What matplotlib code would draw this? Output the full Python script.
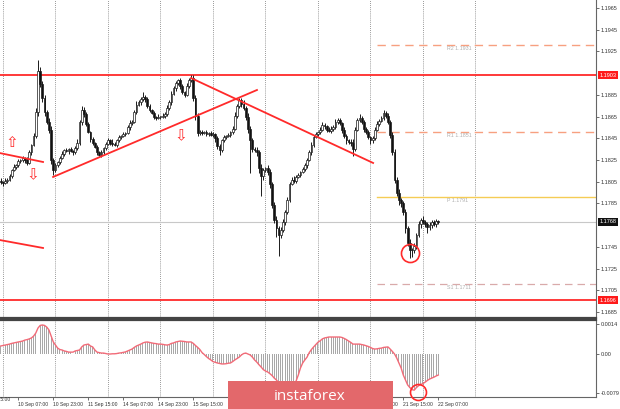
import matplotlib.pyplot as plt
import numpy as np
from matplotlib.patches import Rectangle
from matplotlib.transforms import blended_transform_factory

plt.rcParams['font.family'] = ['Liberation Sans', 'DejaVu Sans']

# EURUSD H1, bar 0 = 10 Sep 07:00
first_bar = -8
first_open = 1.1806
closes = [
    1.1805, 1.1804, 1.1806, 1.1807, 1.1810, 1.1816, 1.1819, 1.1820,
    1.1824, 1.1825, 1.1827, 1.1825, 1.1822, 1.1832, 1.1839, 1.1847, 1.1869, 1.1907, 1.1895, 1.1882,
    1.1869, 1.1860, 1.1853, 1.1825, 1.1816, 1.1820, 1.1823, 1.1827, 1.1831, 1.1834, 1.1833, 1.1835,
    1.1833, 1.1832, 1.1836, 1.1841, 1.1860, 1.1871, 1.1867, 1.1858, 1.1851, 1.1844, 1.1841, 1.1837,
    1.1832, 1.1830, 1.1832, 1.1836, 1.1840, 1.1843, 1.1841, 1.1840, 1.1839, 1.1843, 1.1846, 1.1847,
    1.1849, 1.1850, 1.1855, 1.1859, 1.1860, 1.1869, 1.1876, 1.1878, 1.1881, 1.1883, 1.1881, 1.1875,
    1.1871, 1.1868, 1.1865, 1.1864, 1.1865, 1.1865, 1.1866, 1.1867, 1.1873, 1.1878, 1.1886, 1.1891,
    1.1896, 1.1899, 1.1893, 1.1888, 1.1885, 1.1893, 1.1899, 1.1901, 1.1882, 1.1866, 1.1850, 1.1851,
    1.1850, 1.1851, 1.1849, 1.1850, 1.1848, 1.1849, 1.1845, 1.1838, 1.1834, 1.1843, 1.1846, 1.1847,
    1.1848, 1.1851, 1.1854, 1.1866, 1.1875, 1.1880, 1.1877, 1.1873, 1.1865, 1.1854, 1.1843, 1.1835,
    1.1834, 1.1832, 1.1818, 1.1810, 1.1816, 1.1818, 1.1814, 1.1803, 1.1784, 1.1770, 1.1762, 1.1756,
    1.1761, 1.1768, 1.1777, 1.1788, 1.1803, 1.1807, 1.1806, 1.1809, 1.1811, 1.1814, 1.1817, 1.1820,
    1.1825, 1.1832, 1.1839, 1.1846, 1.1849, 1.1851, 1.1853, 1.1857, 1.1856, 1.1853, 1.1852, 1.1854,
    1.1855, 1.1860, 1.1862, 1.1859, 1.1853, 1.1847, 1.1843, 1.1842, 1.1841, 1.1835, 1.1853, 1.1862,
    1.1864, 1.1860, 1.1854, 1.1851, 1.1846, 1.1843, 1.1845, 1.1853, 1.1858, 1.1861, 1.1864, 1.1868,
    1.1866, 1.1860, 1.1848, 1.1832, 1.1807, 1.1795, 1.1788, 1.1785, 1.1777, 1.1762, 1.1749, 1.1742,
    1.1742, 1.1746, 1.1756, 1.1766, 1.1770, 1.1768, 1.1766, 1.1763, 1.1765, 1.1768, 1.1766, 1.1769, 1.1768,
]
# wick lengths in pips
wick_up = [
    2, 1, 2, 1, 2, 1, 2, 1,
    2, 1, 2, 1, 3, 2, 1, 3, 4, 10, 4, 3,
    3, 2, 4, 3, 2, 2, 1, 2, 2, 1, 2, 1,
    2, 1, 2, 3, 2, 4, 3, 2, 2, 1, 2, 1,
    2, 1, 2, 1, 2, 2, 1, 3, 2, 1, 2, 1,
    2, 1, 2, 3, 2, 2, 3, 2, 2, 5, 2, 2,
    2, 1, 2, 1, 2, 1, 2, 2, 3, 2, 3, 2,
    2, 1, 2, 2, 1, 3, 2, 2, 2, 3, 2, 2,
    2, 1, 2, 1, 2, 2, 1, 2, 2, 1, 2, 1,
    2, 1, 2, 3, 2, 2, 2, 3, 2, 3, 2, 2,
    2, 3, 2, 3, 2, 1, 2, 3, 2, 2, 3, 2,
    2, 3, 2, 3, 2, 2, 3, 2, 2, 1, 2, 2,
    2, 2, 3, 2, 2, 1, 2, 3, 2, 1, 2, 2,
    2, 3, 2, 2, 1, 2, 2, 1, 2, 3, 2, 2,
    3, 2, 2, 1, 2, 1, 2, 2, 3, 2, 2, 3,
    2, 2, 2, 3, 3, 2, 3, 2, 2, 3, 2, 3,
    2, 3, 2, 3, 2, 3, 2, 2, 3, 2, 2, 2, 1,
]
wick_dn = [
    2, 3, 1, 2, 1, 2, 1, 2,
    1, 2, 2, 3, 2, 1, 2, 1, 2, 3, 3, 4,
    3, 2, 3, 4, 5, 2, 1, 2, 1, 2, 1, 2,
    1, 2, 1, 2, 2, 3, 2, 2, 1, 2, 2, 1,
    2, 1, 2, 1, 2, 1, 2, 2, 1, 2, 1, 2,
    1, 2, 1, 2, 2, 1, 2, 1, 2, 2, 3, 2,
    2, 1, 2, 2, 1, 2, 1, 2, 1, 2, 2, 1,
    2, 2, 3, 2, 2, 1, 2, 2, 3, 4, 3, 2,
    2, 1, 2, 2, 1, 2, 3, 3, 4, 2, 1, 2,
    1, 2, 2, 1, 2, 2, 3, 2, 3, 4, 30, 3,
    2, 3, 5, 18, 3, 2, 3, 4, 3, 3, 8, 19,
    3, 2, 3, 2, 2, 1, 2, 2, 1, 2, 1, 2,
    2, 1, 2, 2, 1, 2, 2, 1, 2, 2, 1, 2,
    2, 1, 2, 2, 3, 2, 3, 2, 3, 6, 2, 1,
    2, 2, 3, 2, 2, 3, 2, 2, 1, 2, 1, 2,
    2, 2, 3, 2, 3, 3, 4, 3, 3, 4, 3, 7,
    6, 3, 3, 2, 4, 2, 3, 5, 2, 3, 2, 3, 2,
]
osma = [
    0.00034, 0.00036, 0.00038, 0.00040, 0.00042, 0.00045, 0.00047, 0.00049,
    0.00051, 0.00053, 0.00055, 0.00059, 0.00061, 0.00064, 0.00068, 0.00076, 0.00089, 0.00110, 0.00121, 0.00123,
    0.00121, 0.00114, 0.00102, 0.00076, 0.00051, 0.00038, 0.00025, 0.00019, 0.00017, 0.00013, 0.00011, 0.00008,
    0.00008, 0.00008, 0.00013, 0.00015, 0.00017, 0.00030, 0.00038, 0.00040, 0.00042, 0.00034, 0.00030, 0.00017,
    0.00008, 0.00006, 0.00004, 0.00004, 0.00002, 0.00000, 0.00000, 0.00001, 0.00001, 0.00002, 0.00004, 0.00005,
    0.00007, 0.00009, 0.00013, 0.00017, 0.00021, 0.00028, 0.00034, 0.00038, 0.00042, 0.00047, 0.00050, 0.00051,
    0.00049, 0.00047, 0.00045, 0.00044, 0.00042, 0.00042, 0.00041, 0.00039, 0.00038, 0.00040, 0.00045, 0.00047,
    0.00051, 0.00053, 0.00055, 0.00054, 0.00053, 0.00051, 0.00051, 0.00051, 0.00045, 0.00036, 0.00028, 0.00019,
    0.00006, -0.00002, -0.00011, -0.00019, -0.00025, -0.00032, -0.00035, -0.00038, -0.00040, -0.00042, -0.00042, -0.00041,
    -0.00039, -0.00038, -0.00032, -0.00025, -0.00019, -0.00013, -0.00004, 0.00002, 0.00004, 0.00000, -0.00004, -0.00013,
    -0.00025, -0.00034, -0.00045, -0.00055, -0.00066, -0.00072, -0.00076, -0.00083, -0.00091, -0.00102, -0.00110, -0.00121,
    -0.00131, -0.00142, -0.00151, -0.00155, -0.00153, -0.00144, -0.00131, -0.00114, -0.00089, -0.00059, -0.00038, -0.00025,
    -0.00013, 0.00006, 0.00019, 0.00030, 0.00040, 0.00050, 0.00056, 0.00064, 0.00068, 0.00070, 0.00072, 0.00072,
    0.00072, 0.00072, 0.00072, 0.00072, 0.00070, 0.00066, 0.00061, 0.00055, 0.00049, 0.00042, 0.00042, 0.00042,
    0.00042, 0.00040, 0.00038, 0.00035, 0.00032, 0.00028, 0.00023, 0.00021, 0.00022, 0.00024, 0.00025, 0.00028,
    0.00029, 0.00030, 0.00021, 0.00011, 0.00000, -0.00017, -0.00038, -0.00059, -0.00089, -0.00110, -0.00131, -0.00142,
    -0.00151, -0.00153, -0.00142, -0.00134, -0.00129, -0.00125, -0.00119, -0.00112, -0.00106, -0.00102, -0.00098, -0.00093, -0.00089,
]

day_starts = [-7, 17, 41, 65, 89, 113, 137, 161, 185, 209]
# labels under the watermark are not visible in the picture
time_ticks = [0, 16, 32, 48, 64, 80, 160, 176, 192]
time_labels = ['10 Sep 07:00', '10 Sep 23:00', '11 Sep 15:00', '14 Sep 07:00', '14 Sep 23:00',
               '15 Sep 15:00', '18 Sep 23:00', '21 Sep 15:00', '22 Sep 07:00']

price_ticks = [1.1685, 1.1705, 1.1725, 1.1745, 1.1785, 1.1805, 1.1825, 1.1845,
               1.1865, 1.1885, 1.1925, 1.1945, 1.1965]
resistance = 1.1903
support = 1.1696
last_price = 1.1768
pivots = [('R2', 1.1931), ('R1', 1.1851), ('P', 1.1791), ('S1', 1.1711)]
pivot_start = 164

# trend lines: (bar, price) pairs
trend_lines = [
    ((-8.4, 1.18314), (11.3, 1.18232)),
    ((-8.4, 1.17513), (11.3, 1.17440)),
    ((15.9, 1.18094), (109.1, 1.18895)),
    ((79.0, 1.19005), (162.2, 1.18223)),
]
arrows = [(-2.9, 1.18407, '\u21e7'), (6.7, 1.18112, '\u21e9'), (74.4, 1.18471, '\u21e9')]

bars = np.arange(first_bar, first_bar + len(closes))
c = np.array(closes)
o = np.concatenate([[first_open], c[:-1]])
hi = np.maximum(o, c) + np.array(wick_up) * 0.0001
lo = np.minimum(o, c) - np.array(wick_dn) * 0.0001

fig = plt.figure(figsize=(6.2, 4.09), dpi=100)
ax = fig.add_axes([0, 0.2225, 0.9613, 0.7775])
ax2 = fig.add_axes([0, 0.0293, 0.9613, 0.1883])

xmin, xmax = -8.37, 264.1
for a in (ax, ax2):
    a.set_xlim(xmin, xmax)
    for d in day_starts:
        a.axvline(d, color='#777777', lw=0.6, ls=(0, (1, 1.5)), zorder=1)

ax.set_ylim(1.16795, 1.19724)

# levels
ax.axhline(last_price, color='#c8c8c8', lw=0.8, zorder=1)
ax.axhline(resistance, color='#ff2a2a', lw=1.3, zorder=3)
ax.axhline(support, color='#ff2a2a', lw=1.3, zorder=3)
for name, lv in pivots:
    if name == 'P':
        ax.plot([pivot_start, xmax], [lv, lv], color='#f5cc55', lw=1.0, zorder=2)
    elif name == 'S1':
        ax.plot([pivot_start, xmax], [lv, lv], color='#d9aaaa', lw=0.9, ls=(0, (6, 4)), zorder=2)
    else:
        ax.plot([pivot_start, xmax], [lv, lv], color='#f7a080', lw=1.0, ls=(0, (6, 4)), zorder=2)
    ax.text(196, lv - 0.00012, f'{name} {lv:.4f}', fontsize=3.8, color='#b0b0b0', va='top', ha='left')

# candles
ax.vlines(bars, lo, hi, color='#1a1a1a', lw=0.7, zorder=4)
body = np.maximum(np.abs(c - o), 0.00003)
ax.bar(bars, body, bottom=np.minimum(o, c), width=0.8,
       color=np.where(c >= o, '#ffffff', '#111111'), edgecolor='#1a1a1a', linewidth=0.5, zorder=5)

for (x1, y1), (x2, y2) in trend_lines:
    ax.plot([x1, x2], [y1, y2], color='#ff2a2a', lw=1.3, zorder=6)
for x, y, s in arrows:
    ax.text(x, y, s, color='#ff2a2a', fontsize=11, ha='center', va='center',
            family='DejaVu Sans', zorder=6)

ax.plot(179.1, 1.17394, 'o', ms=13, mfc='none', mec='#ff2a2a', mew=1.2, zorder=7)

# right price scale
ax.yaxis.tick_right()
ax.set_yticks(price_ticks, [f'{p:.4f}' for p in price_ticks])
ax.tick_params(axis='y', labelsize=4, length=2, width=0.5, pad=1.5, colors='#333333')
ax.set_xticks([])
tr = blended_transform_factory(ax.transAxes, ax.transData)
for p, fc in ((resistance, '#ff1a1a'), (support, '#ff1a1a'), (last_price, '#111111')):
    ax.text(1.006, p, f'{p:.4f}', transform=tr, fontsize=4, color='white', va='center', ha='left',
            bbox=dict(boxstyle='square,pad=0.25', fc=fc, ec='none'), clip_on=False)
for s in ('left', 'top'):
    ax.spines[s].set_visible(False)
ax.spines['right'].set_color('#666666')
ax.spines['right'].set_linewidth(0.8)
ax.spines['bottom'].set_color('#444444')
ax.spines['bottom'].set_linewidth(1.6)

# indicator panel
ax2.set_ylim(-0.00182, 0.00144)
ax2.bar(bars, osma, width=0.45, color='#a8a8a8', zorder=2)
ax2.plot(bars, osma, color='#f26b78', lw=1.0, zorder=3)
ax2.plot(182.7, -0.00161, 'o', ms=11.5, mfc='none', mec='#ff2a2a', mew=1.2, zorder=7, clip_on=False)
ax2.yaxis.tick_right()
ax2.set_yticks([0.00127, 0.0, -0.00165], ['0.0014', '0.00', '-0.0079'])
ax2.tick_params(axis='y', labelsize=4, length=2, width=0.5, pad=1.5, colors='#333333')
ax2.set_xticks(time_ticks, time_labels)
ax2.tick_params(axis='x', labelsize=3.6, length=2, width=0.5, pad=1.5, colors='#333333')
for lab in ax2.get_xticklabels():
    lab.set_ha('left')
ax2.text(-16, -0.00182, '9 Sep 15:00', fontsize=3.6, color='#333333', ha='left', va='top',
         transform=ax2.transData, clip_on=False)
ax2.spines['left'].set_visible(False)
ax2.spines['top'].set_color('#444444')
ax2.spines['top'].set_linewidth(1.6)
for s in ('right', 'bottom'):
    ax2.spines[s].set_color('#666666')
    ax2.spines[s].set_linewidth(0.8)

# watermark
fig.add_artist(Rectangle((228 / 620, 0), 165 / 620, 28 / 409, transform=fig.transFigure,
                         fc='#e3686b', ec='none', zorder=10))
fig.text(310 / 620, 13 / 409, 'instaforex', color='white', fontsize=11, ha='center', va='center',
         family='Open Sans', zorder=11)

fig.savefig('out.png', dpi=100)
